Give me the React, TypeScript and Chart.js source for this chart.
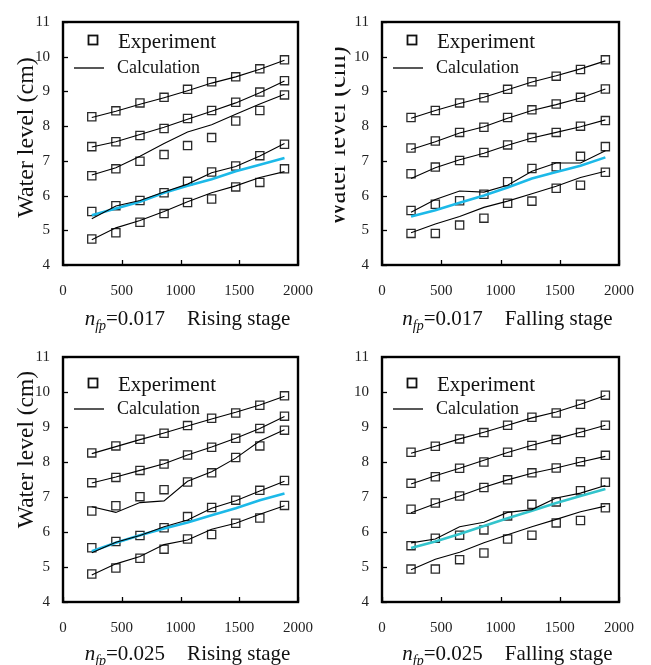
import React, { useEffect, useRef } from 'react';
import { Chart, registerables } from 'chart.js';

Chart.register(...registerables);

// ---------- DATA ----------
const distance = [245, 450, 655, 860, 1060, 1265, 1470, 1675, 1885];

// n_fp = 0.017, Rising stage
const rising017Exp = [
  [8.27, 8.44, 8.67, 8.83, 9.06, 9.28, 9.42, 9.65, 9.91],
  [7.41, 7.55, 7.73, 7.93, 8.22, 8.45, 8.69, 8.98, 9.31],
  [6.57, 6.77, 6.99, 7.18, 7.44, 7.67, 8.15, 8.45, 8.90],
  [5.54, 5.71, 5.86, 6.08, 6.41, 6.68, 6.85, 7.15, 7.48],
  [4.75, 4.93, 5.23, 5.48, 5.80, 5.90, 6.25, 6.38, 6.77],
];
const rising017Calc = [
  [8.25, 8.43, 8.63, 8.82, 9.02, 9.24, 9.42, 9.64, 9.90],
  [7.40, 7.55, 7.76, 7.97, 8.20, 8.43, 8.67, 8.96, 9.30],
  [6.59, 6.80, 7.13, 7.50, 7.83, 8.04, 8.34, 8.64, 8.92],
  [5.33, 5.70, 5.86, 6.10, 6.33, 6.66, 6.84, 7.14, 7.50],
  [4.73, 5.07, 5.28, 5.54, 5.82, 6.08, 6.28, 6.52, 6.69],
];
const rising017Cyan = [5.43, 5.63, 5.82, 6.08, 6.28, 6.47, 6.70, 6.89, 7.08];

// n_fp = 0.017, Falling stage
const falling017Exp = [
  [8.25, 8.45, 8.67, 8.82, 9.06, 9.28, 9.44, 9.63, 9.91],
  [7.37, 7.57, 7.82, 7.97, 8.25, 8.47, 8.64, 8.83, 9.07],
  [6.63, 6.82, 7.01, 7.24, 7.46, 7.67, 7.82, 8.00, 8.16],
  [5.57, 5.75, 5.85, 6.04, 6.40, 6.78, 6.83, 7.13, 7.41],
  [4.91, 4.91, 5.15, 5.35, 5.78, 5.84, 6.21, 6.30, 6.67],
];
const falling017Calc = [
  [8.23, 8.45, 8.65, 8.83, 9.05, 9.27, 9.45, 9.65, 9.88],
  [7.33, 7.55, 7.80, 7.98, 8.23, 8.45, 8.62, 8.81, 9.07],
  [6.49, 6.80, 7.03, 7.22, 7.45, 7.66, 7.82, 7.98, 8.18],
  [5.52, 5.89, 6.13, 6.10, 6.30, 6.70, 6.94, 6.94, 7.29],
  [4.93, 5.18, 5.40, 5.66, 5.84, 6.05, 6.27, 6.52, 6.70],
];
const falling017Cyan = [5.40, 5.58, 5.79, 6.00, 6.23, 6.49, 6.68, 6.86, 7.10];

// n_fp = 0.025, Rising stage
const rising025Exp = [
  [8.26, 8.46, 8.65, 8.82, 9.04, 9.25, 9.40, 9.62, 9.89],
  [7.41, 7.56, 7.76, 7.94, 8.20, 8.42, 8.68, 8.96, 9.31],
  [6.60, 6.75, 7.01, 7.21, 7.43, 7.69, 8.13, 8.46, 8.91],
  [5.55, 5.73, 5.90, 6.12, 6.44, 6.70, 6.91, 7.19, 7.47],
  [4.80, 4.97, 5.25, 5.51, 5.80, 5.93, 6.25, 6.40, 6.76],
];
const rising025Calc = [
  [8.24, 8.44, 8.64, 8.83, 9.03, 9.23, 9.42, 9.63, 9.88],
  [7.40, 7.57, 7.76, 7.95, 8.20, 8.43, 8.68, 8.96, 9.30],
  [6.72, 6.56, 6.84, 6.89, 7.45, 7.72, 8.11, 8.60, 8.92],
  [5.41, 5.71, 5.90, 6.15, 6.34, 6.68, 6.89, 7.17, 7.45],
  [4.77, 5.09, 5.30, 5.64, 5.77, 6.08, 6.25, 6.51, 6.75],
];
const rising025Cyan = [5.45, 5.69, 5.91, 6.10, 6.27, 6.48, 6.68, 6.91, 7.10];

// n_fp = 0.025, Falling stage
const falling025Exp = [
  [8.28, 8.45, 8.66, 8.84, 9.05, 9.28, 9.40, 9.65, 9.91],
  [7.39, 7.58, 7.82, 8.00, 8.28, 8.47, 8.64, 8.84, 9.05],
  [6.65, 6.83, 7.03, 7.27, 7.49, 7.69, 7.83, 8.01, 8.19],
  [5.61, 5.82, 5.91, 6.06, 6.46, 6.79, 6.86, 7.18, 7.42],
  [4.94, 4.94, 5.21, 5.40, 5.80, 5.91, 6.26, 6.33, 6.69],
];
const falling025Calc = [
  [8.25, 8.45, 8.66, 8.85, 9.05, 9.26, 9.43, 9.65, 9.90],
  [7.37, 7.61, 7.82, 8.05, 8.27, 8.48, 8.66, 8.85, 9.05],
  [6.55, 6.81, 7.03, 7.28, 7.49, 7.68, 7.83, 8.00, 8.16],
  [5.69, 5.80, 6.15, 6.28, 6.56, 6.64, 6.97, 7.11, 7.33],
  [4.92, 5.22, 5.42, 5.69, 5.92, 6.15, 6.36, 6.58, 6.74],
];
const falling025Cyan = [5.54, 5.73, 5.94, 6.17, 6.39, 6.61, 6.83, 7.03, 7.23];

const yAxisTitle = 'Water level (cm)';
const legendLabels = ['Experiment', 'Calculation'];
const panelRoughness = ['0.017', '0.017', '0.025', '0.025'];
const panelStages = ['Rising stage', 'Falling stage', 'Rising stage', 'Falling stage'];

// ---------- RENDERING ----------
const SERIF = "'Liberation Serif', 'Times New Roman', serif";

type Panel = {
  left: number; top: number; w: number; h: number;
  padTop: number; padRight: number; yW: number; xH: number;
  exp: number[][]; calc: number[][]; cyan: number[]; cyanColor: string;
  nfp: string; stage: string;
  legSq: number; legLine: number; titleBase: number;
  yTitle: null | { size: number; dx: number; dy: number };
};

const panels: Panel[] = [
  { left: 0, top: 0, w: 330, h: 335, padTop: 15, padRight: 23, yW: 63, xH: 70,
    exp: rising017Exp, calc: rising017Calc, cyan: rising017Cyan, cyanColor: '#1CB9E8',
    nfp: panelRoughness[0], stage: panelStages[0], legSq: 18, legLine: 46, titleBase: 60,
    yTitle: { size: 24, dx: -30, dy: -6 } },
  { left: 335, top: 0, w: 316, h: 335, padTop: 15, padRight: 24, yW: 47, xH: 70,
    exp: falling017Exp, calc: falling017Calc, cyan: falling017Cyan, cyanColor: '#1CB9E8',
    nfp: panelRoughness[1], stage: panelStages[1], legSq: 18, legLine: 46, titleBase: 60,
    yTitle: { size: 27, dx: -37, dy: -7 } },
  { left: 0, top: 335, w: 330, h: 330, padTop: 21, padRight: 23, yW: 63, xH: 63,
    exp: rising025Exp, calc: rising025Calc, cyan: rising025Cyan, cyanColor: '#1CB9E8',
    nfp: panelRoughness[2], stage: panelStages[2], legSq: 26, legLine: 52, titleBase: 58,
    yTitle: { size: 23.5, dx: -30, dy: -30 } },
  { left: 335, top: 335, w: 316, h: 330, padTop: 21, padRight: 24, yW: 47, xH: 63,
    exp: falling025Exp, calc: falling025Calc, cyan: falling025Cyan, cyanColor: '#33C4CC',
    nfp: panelRoughness[3], stage: panelStages[3], legSq: 26, legLine: 52, titleBase: 58,
    yTitle: null },
];

function makeDecor(p: Panel) {
  return {
    id: 'decor',
    afterDraw(chart: any) {
      const { ctx, chartArea: a, scales } = chart;
      ctx.save();
      // frame
      ctx.strokeStyle = '#000';
      ctx.lineWidth = 2.4;
      ctx.strokeRect(a.left, a.top, a.right - a.left, a.bottom - a.top);
      // inward ticks
      ctx.lineWidth = 1.3;
      scales.y.ticks.forEach((t: any) => {
        const py = Math.round(scales.y.getPixelForValue(t.value)) + 0.5;
        ctx.beginPath(); ctx.moveTo(a.left, py); ctx.lineTo(a.left + 5, py); ctx.stroke();
      });
      scales.x.ticks.forEach((t: any) => {
        const px = Math.round(scales.x.getPixelForValue(t.value)) + 0.5;
        ctx.beginPath(); ctx.moveTo(px, a.bottom); ctx.lineTo(px, a.bottom - 5); ctx.stroke();
      });
      // legend
      const sqY = a.top + p.legSq;
      ctx.lineWidth = 1.8;
      ctx.strokeStyle = '#111';
      ctx.strokeRect(a.left + 30 - 4.5, sqY - 4.5, 9, 9);
      ctx.fillStyle = '#111';
      ctx.textAlign = 'left';
      ctx.textBaseline = 'alphabetic';
      ctx.font = `21px ${SERIF}`;
      ctx.fillText(legendLabels[0], a.left + 55, sqY + 8);
      const lnY = a.top + p.legLine;
      ctx.lineWidth = 1.4;
      ctx.beginPath(); ctx.moveTo(a.left + 11, lnY); ctx.lineTo(a.left + 41, lnY); ctx.stroke();
      ctx.font = `18px ${SERIF}`;
      ctx.fillText(legendLabels[1], a.left + 54, lnY + 4.5);
      // x title
      const parts = [
        { t: 'n', f: `italic 21px ${SERIF}`, dy: 0 },
        { t: 'fp', f: `italic 14px ${SERIF}`, dy: 5 },
        { t: '=' + p.nfp, f: `21px ${SERIF}`, dy: 0 },
      ];
      const gap = 22;
      ctx.font = `21px ${SERIF}`;
      const stageW = ctx.measureText(p.stage).width;
      let total = stageW + gap;
      parts.forEach((q) => { ctx.font = q.f; total += ctx.measureText(q.t).width; });
      let x = (a.left + a.right) / 2 + 7 - total / 2;
      const base = a.bottom + p.titleBase;
      parts.forEach((q) => {
        ctx.font = q.f;
        ctx.fillText(q.t, x, base + q.dy);
        x += ctx.measureText(q.t).width;
      });
      x += gap;
      ctx.font = `21px ${SERIF}`;
      ctx.fillText(p.stage, x, base);
      // y title
      if (p.yTitle) {
        ctx.save();
        ctx.translate(a.left + p.yTitle.dx, (a.top + a.bottom) / 2 + p.yTitle.dy);
        ctx.rotate(-Math.PI / 2);
        ctx.textAlign = 'center';
        ctx.textBaseline = 'alphabetic';
        ctx.font = `${p.yTitle.size}px ${SERIF}`;
        ctx.fillStyle = '#111';
        ctx.fillText(yAxisTitle, 0, 0);
        ctx.restore();
      }
      ctx.restore();
    },
  };
}

function buildConfig(p: Panel): any {
  const toPts = (ys: number[]) => ys.map((y, i) => ({ x: distance[i], y }));
  const datasets: any[] = [];
  p.calc.forEach((c) => {
    datasets.push({ data: toPts(c), showLine: true, borderColor: '#000', borderWidth: 1.1,
      pointRadius: 0, fill: false, tension: 0 });
  });
  datasets.push({ data: toPts(p.cyan), showLine: true, borderColor: p.cyanColor, borderWidth: 2.6,
    pointRadius: 0, fill: false, tension: 0 });
  p.exp.forEach((e) => {
    datasets.push({ data: toPts(e), showLine: false, pointStyle: 'rect', pointRadius: 5.8,
      borderColor: '#2a2a2a', borderWidth: 1.3, backgroundColor: 'rgba(0,0,0,0)' });
  });
  const tickFont = { family: SERIF, size: 15 };
  return {
    type: 'scatter',
    data: { datasets },
    options: {
      responsive: false,
      animation: false,
      events: [],
      layout: { padding: { left: 0, top: p.padTop, right: p.padRight, bottom: 0 } },
      plugins: { legend: { display: false }, tooltip: { enabled: false }, title: { display: false } },
      scales: {
        x: {
          type: 'linear', min: 0, max: 2000,
          afterFit: (s: any) => { s.height = p.xH; },
          ticks: { stepSize: 500, autoSkip: false, maxRotation: 0, padding: 17, font: tickFont, color: '#222',
            callback: (v: any) => String(v) },
          grid: { display: false, drawTicks: false },
          border: { display: false },
        },
        y: {
          type: 'linear', min: 4, max: 11,
          afterFit: (s: any) => { s.width = p.yW; },
          ticks: { stepSize: 1, autoSkip: false, padding: 13, font: tickFont, color: '#222',
            callback: (v: any) => String(v) },
          grid: { display: false, drawTicks: false },
          border: { display: false },
        },
      },
    },
    plugins: [makeDecor(p)],
  };
}

function PanelChart({ p }: { p: Panel }) {
  const ref = useRef<HTMLCanvasElement | null>(null);
  useEffect(() => {
    if (!ref.current) return;
    const chart = new Chart(ref.current, buildConfig(p));
    return () => chart.destroy();
  }, [p]);
  return (
    <canvas
      ref={ref}
      width={p.w}
      height={p.h}
      style={{ position: 'absolute', left: p.left, top: p.top, width: p.w, height: p.h }}
    />
  );
}

export default function App() {
  return (
    <div style={{ position: 'absolute', left: 0, top: 0, width: 651, height: 665, background: '#fff' }}>
      {panels.map((p, i) => (
        <PanelChart key={i} p={p} />
      ))}
    </div>
  );
}
